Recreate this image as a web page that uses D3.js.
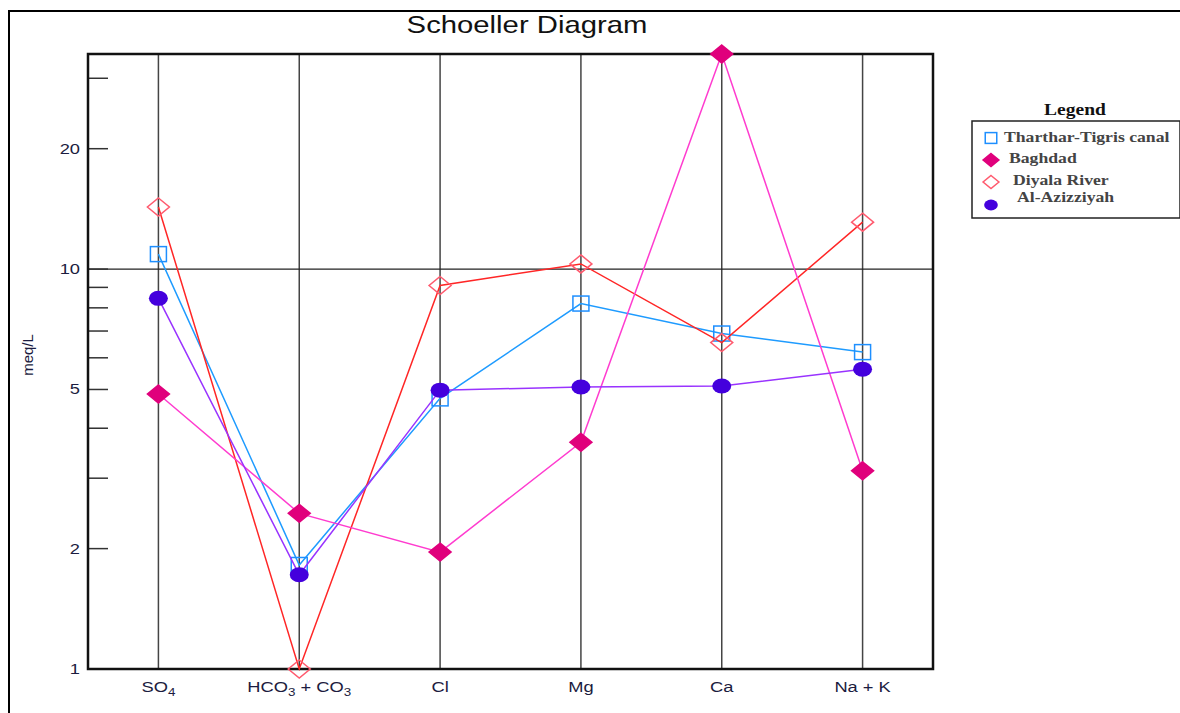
<!DOCTYPE html>
<html>
<head>
<meta charset="utf-8">
<script src="https://cdn.jsdelivr.net/npm/d3@7"></script>
<style>
  body { margin: 0; background: #fff; }
  svg { display: block; }
</style>
</head>
<body>
<svg id="chart" width="1180" height="713"></svg>
<script>
// ions on the x axis (main text + subscript parts)
var ions = ["SO4", "HCO3 + CO3", "Cl", "Mg", "Ca", "Na + K"];
var ionLabels = [
  [["SO", 0], ["4", 1]],
  [["HCO", 0], ["3", 1], [" + CO", 0], ["3", 1]],
  [["Cl", 0]],
  [["Mg", 0]],
  [["Ca", 0]],
  [["Na + K", 0]]
];

// meq/L
var tharthar   = [10.9, 1.82, 4.75, 8.2, 6.9, 6.2];
var baghdad    = [4.87, 2.45, 1.96, 3.69, 34.5, 3.13];
var diyala     = [14.3, 1.0, 9.1, 10.3, 6.55, 13.1];
var azizziyah  = [8.45, 1.72, 4.98, 5.07, 5.1, 5.62];

var seriesNames = ["Tharthar-Tigris canal", "Baghdad", "Diyala River", "Al-Azizziyah"];

var yTickValues = [1, 2, 3, 4, 5, 6, 7, 8, 9, 10, 20, 30];
var yTickLabels = [1, 2, 5, 10, 20];

var svg = d3.select("#chart");

var pLeft = 88, pRight = 933, pTop = 54, pBottom = 669;
var sx = 1.22; // the original picture is stretched sideways

var x = d3.scalePoint().domain(ions).range([pLeft, pRight]).padding(0.5);
var y = d3.scaleLog().domain([1, 34.5]).range([pBottom, pTop]);

function at(px, py) { return "translate(" + px + "," + py + ") scale(" + sx + ",1)"; }

// outer frame
svg.append("path")
  .attr("d", "M9,713 L9,11 L1180,11")
  .attr("fill", "none").attr("stroke", "#000").attr("stroke-width", 2);

// title
svg.append("text")
  .attr("transform", at(527, 33))
  .attr("text-anchor", "middle")
  .attr("font-family", "Liberation Sans, Arial, sans-serif")
  .attr("font-size", 24)
  .attr("fill", "#111")
  .text("Schoeller Diagram");

// vertical grid lines at each ion
svg.append("g").selectAll("line")
  .data(ions).enter().append("line")
  .attr("x1", function (d) { return x(d); })
  .attr("x2", function (d) { return x(d); })
  .attr("y1", pTop).attr("y2", pBottom)
  .attr("stroke", "#444").attr("stroke-width", 1.5);

// horizontal line at 10
svg.append("line")
  .attr("x1", pLeft).attr("x2", pRight)
  .attr("y1", y(10)).attr("y2", y(10))
  .attr("stroke", "#222").attr("stroke-width", 1.2);

// y ticks (inward)
svg.append("g").selectAll("line")
  .data(yTickValues).enter().append("line")
  .attr("x1", pLeft).attr("x2", pLeft + 20)
  .attr("y1", function (d) { return y(d); })
  .attr("y2", function (d) { return y(d); })
  .attr("stroke", "#333").attr("stroke-width", 1.5);

svg.append("g").selectAll("text")
  .data(yTickLabels).enter().append("text")
  .attr("transform", function (d) { return at(pLeft - 8, y(d) + 5); })
  .attr("text-anchor", "end")
  .attr("font-family", "Liberation Sans, Arial, sans-serif")
  .attr("font-size", 15)
  .attr("fill", "#1c1c40")
  .text(function (d) { return d; });

// plot frame
svg.append("rect")
  .attr("x", pLeft).attr("y", pTop)
  .attr("width", pRight - pLeft).attr("height", pBottom - pTop)
  .attr("fill", "none").attr("stroke", "#111").attr("stroke-width", 2.5);

// y axis title
svg.append("text")
  .attr("transform", "translate(33,355) rotate(-90)")
  .attr("text-anchor", "middle")
  .attr("font-family", "Liberation Sans, Arial, sans-serif")
  .attr("font-size", 15)
  .attr("fill", "#1c1c40")
  .text("meq/L");

// x labels with subscripts
var xl = svg.append("g").selectAll("text")
  .data(ions).enter().append("text")
  .attr("transform", function (d) { return at(x(d), 692); })
  .attr("text-anchor", "middle")
  .attr("font-family", "Liberation Sans, Arial, sans-serif")
  .attr("font-size", 15)
  .attr("fill", "#1c1c40");
xl.each(function (d, i) {
  var t = d3.select(this);
  ionLabels[i].forEach(function (p) {
    var s = t.append("tspan").text(p[0]);
    if (p[1]) s.attr("font-size", 11).attr("dy", 4);
    else if (t.selectAll("tspan").size() > 1) s.attr("dy", -4);
  });
});

// series
var series = [
  { name: seriesNames[0], values: tharthar, line: "#1e9bff", shape: "square", fill: "none", stroke: "#1e8fff" },
  { name: seriesNames[2], values: diyala, line: "#ff2626", shape: "diamond", fill: "none", stroke: "#ff5a6e" },
  { name: seriesNames[1], values: baghdad, line: "#ff3ccf", shape: "diamond", fill: "#e0007c", stroke: "#e0007c" },
  { name: seriesNames[3], values: azizziyah, line: "#9933ff", shape: "circle", fill: "#4400dd", stroke: "#4400dd" }
];

var line = d3.line()
  .x(function (d, i) { return x(ions[i]); })
  .y(function (d) { return y(d); });

function marker(g, s, cx, cy, k) {
  if (s.shape === "square") {
    g.append("rect").attr("x", cx - 8 * k).attr("y", cy - 7.5 * k)
      .attr("width", 16 * k).attr("height", 15 * k)
      .attr("fill", "none")
      .attr("stroke", s.stroke).attr("stroke-width", 1.5);
  } else if (s.shape === "diamond") {
    var rx = 11 * k, ry = 9 * k;
    g.append("path")
      .attr("d", "M" + cx + "," + (cy - ry) + "L" + (cx + rx) + "," + cy + "L" + cx + "," + (cy + ry) + "L" + (cx - rx) + "," + cy + "Z")
      .attr("fill", s.fill)
      .attr("stroke", s.stroke).attr("stroke-width", 1.5);
  } else {
    g.append("ellipse").attr("cx", cx).attr("cy", cy).attr("rx", 9.5 * k).attr("ry", 7.5 * k)
      .attr("fill", s.fill);
  }
}

series.forEach(function (s) {
  var g = svg.append("g");
  g.append("path").datum(s.values)
    .attr("d", line)
    .attr("fill", "none")
    .attr("stroke", s.line)
    .attr("stroke-width", 1.5);
  s.values.forEach(function (v, i) {
    marker(g, s, x(ions[i]), y(v), 1);
  });
});

// legend
svg.append("text")
  .attr("transform", at(1075, 115))
  .attr("text-anchor", "middle")
  .attr("font-family", "Liberation Serif, Times New Roman, serif")
  .attr("font-weight", "bold")
  .attr("font-size", 16)
  .attr("fill", "#111")
  .text("Legend");

svg.append("rect")
  .attr("x", 972).attr("y", 121).attr("width", 208).attr("height", 97)
  .attr("fill", "none").attr("stroke", "#222").attr("stroke-width", 1.5);

var legendOrder = [series[0], series[2], series[1], series[3]];
var legendY = [138, 160, 182, 205];
var legendTextX = [1004, 1009, 1013, 1017];
var legendTextY = [142, 163, 185, 202];
legendOrder.forEach(function (s, i) {
  var g = svg.append("g");
  marker(g, s, 991, legendY[i], 0.72);
  g.append("text")
    .attr("transform", at(legendTextX[i], legendTextY[i]))
    .attr("font-family", "Liberation Serif, Times New Roman, serif")
    .attr("font-weight", "bold")
    .attr("font-size", 14.5)
    .attr("fill", "#444")
    .text(s.name);
});
</script>
</body>
</html>
